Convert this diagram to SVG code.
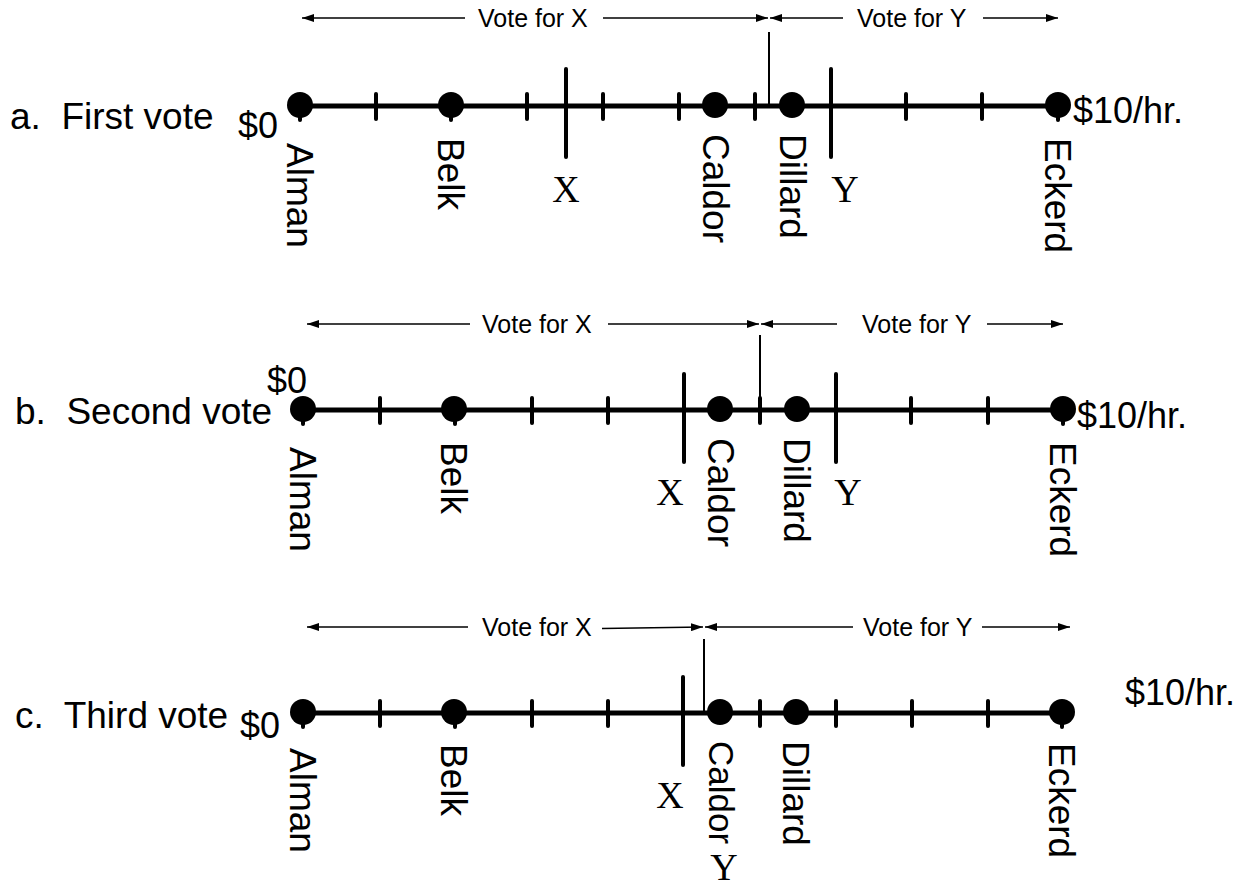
<svg xmlns="http://www.w3.org/2000/svg" width="1257" height="886" viewBox="0 0 1257 886">
  <defs>
    <marker id="head" viewBox="0 0 12 8" refX="12" refY="4" markerWidth="12" markerHeight="8" markerUnits="userSpaceOnUse" orient="auto-start-reverse">
      <path d="M0,0 L12,4 L0,8 Z" fill="#000"/>
    </marker>
  </defs>
  <style>
    .axis { stroke: #000; stroke-width: 5; }
    .tick { stroke: #000; stroke-width: 4; stroke-linecap: round; }
    .cut { stroke: #000; stroke-width: 4; stroke-linecap: round; }
    .split { stroke: #000; stroke-width: 2; }
    .arrow { stroke: #000; stroke-width: 1.6; fill: none; }
    .dot { fill: #000; }
    .sans { font-family: "Liberation Sans", Arial, sans-serif; fill: #000; }
    .title { font-size: 37px; white-space: pre; }
    .money { font-size: 36px; }
    .name { font-size: 37px; }
    .vote { font-size: 25px; }
    .pos { font-family: "Liberation Serif", "Times New Roman", serif; font-size: 38px; text-anchor: middle; fill: #000; }
  </style>

  <rect width="1257" height="886" fill="#fff"/>

  <!-- a. First vote -->
  <g id="panel-a">
    <text class="sans title" x="10" y="129" xml:space="preserve">a.  First vote</text>
    <text class="sans money" x="238" y="138">$0</text>
    <text class="sans money" x="1073" y="123">$10/hr.</text>
    <line class="axis" x1="300" y1="106" x2="1058" y2="106"/>
    <g id="ticks-a">
      <line class="tick" x1="300" y1="95" x2="300" y2="120"/>
      <line class="tick" x1="376" y1="94" x2="376" y2="119"/>
      <line class="tick" x1="451" y1="95" x2="451" y2="120"/>
      <line class="tick" x1="527" y1="94" x2="527" y2="119"/>
      <line class="tick" x1="603" y1="94" x2="603" y2="119"/>
      <line class="tick" x1="679" y1="94" x2="679" y2="119"/>
      <line class="tick" x1="755" y1="94" x2="755" y2="119"/>
      <line class="tick" x1="906" y1="94" x2="906" y2="119"/>
      <line class="tick" x1="982" y1="94" x2="982" y2="119"/>
      <line class="tick" x1="1058" y1="95" x2="1058" y2="120"/>
    </g>
    <g id="a-x"><line class="cut" x1="566" y1="69" x2="566" y2="157"/><text class="pos" x="566" y="202">X</text></g>
    <g id="a-y"><line class="cut" x1="831" y1="69" x2="831" y2="157"/><text class="pos" x="845" y="202">Y</text></g>
    <g id="a-alman"><circle class="dot" cx="300" cy="105" r="13"/><text class="sans name" transform="translate(287,143) rotate(90)">Alman</text></g>
    <g id="a-belk"><circle class="dot" cx="451" cy="105" r="13"/><text class="sans name" transform="translate(438,138) rotate(90)">Belk</text></g>
    <g id="a-caldor"><circle class="dot" cx="715" cy="105" r="13"/><text class="sans name" transform="translate(703,134) rotate(90)">Caldor</text></g>
    <g id="a-dillard"><circle class="dot" cx="792" cy="105" r="13"/><text class="sans name" transform="translate(780,134) rotate(90)">Dillard</text></g>
    <g id="a-eckerd"><circle class="dot" cx="1058" cy="105" r="13"/><text class="sans name" transform="translate(1045,138) rotate(90)">Eckerd</text></g>
    <text class="sans vote" x="478" y="27">Vote for X</text>
    <text class="sans vote" x="857" y="27">Vote for Y</text>
  </g>

  <!-- b. Second vote -->
  <g id="panel-b">
    <text class="sans title" x="15" y="424" xml:space="preserve">b.  Second vote</text>
    <text class="sans money" x="267" y="393">$0</text>
    <text class="sans money" x="1077" y="428">$10/hr.</text>
    <line class="axis" x1="303" y1="410" x2="1063" y2="410"/>
    <g id="ticks-b">
      <line class="tick" x1="303" y1="399" x2="303" y2="424"/>
      <line class="tick" x1="380" y1="398" x2="380" y2="423"/>
      <line class="tick" x1="455" y1="399" x2="455" y2="424"/>
      <line class="tick" x1="532" y1="398" x2="532" y2="423"/>
      <line class="tick" x1="608" y1="398" x2="608" y2="423"/>
      <line class="tick" x1="760" y1="398" x2="760" y2="423"/>
      <line class="tick" x1="911" y1="398" x2="911" y2="423"/>
      <line class="tick" x1="988" y1="398" x2="988" y2="423"/>
      <line class="tick" x1="1063" y1="399" x2="1063" y2="424"/>
    </g>
    <g id="b-x"><line class="cut" x1="684" y1="374" x2="684" y2="462"/><text class="pos" x="670" y="505">X</text></g>
    <g id="b-y"><line class="cut" x1="836" y1="374" x2="836" y2="462"/><text class="pos" x="848" y="505">Y</text></g>
    <g id="b-alman"><circle class="dot" cx="303" cy="409" r="13"/><text class="sans name" transform="translate(290,447) rotate(90)">Alman</text></g>
    <g id="b-belk"><circle class="dot" cx="454" cy="409" r="13"/><text class="sans name" transform="translate(441,442) rotate(90)">Belk</text></g>
    <g id="b-caldor"><circle class="dot" cx="720" cy="409" r="13"/><text class="sans name" transform="translate(708,438) rotate(90)">Caldor</text></g>
    <g id="b-dillard"><circle class="dot" cx="797" cy="409" r="13"/><text class="sans name" transform="translate(784,438) rotate(90)">Dillard</text></g>
    <g id="b-eckerd"><circle class="dot" cx="1063" cy="409" r="13"/><text class="sans name" transform="translate(1050,442) rotate(90)">Eckerd</text></g>
    <text class="sans vote" x="482" y="333">Vote for X</text>
    <text class="sans vote" x="862" y="333">Vote for Y</text>
  </g>

  <!-- c. Third vote -->
  <g id="panel-c">
    <text class="sans title" x="15" y="728" xml:space="preserve">c.  Third vote</text>
    <text class="sans money" x="240" y="738">$0</text>
    <text class="sans money" x="1125" y="705">$10/hr.</text>
    <line class="axis" x1="303" y1="713" x2="1062" y2="713"/>
    <g id="ticks-c">
      <line class="tick" x1="303" y1="702" x2="303" y2="727"/>
      <line class="tick" x1="380" y1="701" x2="380" y2="726"/>
      <line class="tick" x1="455" y1="702" x2="455" y2="727"/>
      <line class="tick" x1="532" y1="701" x2="532" y2="726"/>
      <line class="tick" x1="608" y1="701" x2="608" y2="726"/>
      <line class="tick" x1="760" y1="701" x2="760" y2="726"/>
      <line class="tick" x1="836" y1="701" x2="836" y2="726"/>
      <line class="tick" x1="912" y1="701" x2="912" y2="726"/>
      <line class="tick" x1="988" y1="701" x2="988" y2="726"/>
      <line class="tick" x1="1062" y1="702" x2="1062" y2="727"/>
    </g>
    <g id="c-x"><line class="cut" x1="683" y1="677" x2="683" y2="765"/><text class="pos" x="670" y="808">X</text></g>
    <g id="c-y"><text class="pos" x="724" y="880">Y</text></g>
    <g id="c-alman"><circle class="dot" cx="303" cy="712" r="13"/><text class="sans name" transform="translate(290,748) rotate(90)">Alman</text></g>
    <g id="c-belk"><circle class="dot" cx="454" cy="712" r="13"/><text class="sans name" transform="translate(441,744) rotate(90)">Belk</text></g>
    <g id="c-caldor"><circle class="dot" cx="720" cy="712" r="13"/><text class="sans name" transform="translate(709,741) rotate(90)" style="font-size:35px">Caldor</text></g>
    <g id="c-dillard"><circle class="dot" cx="796" cy="712" r="13"/><text class="sans name" transform="translate(783,741) rotate(90)">Dillard</text></g>
    <g id="c-eckerd"><circle class="dot" cx="1062" cy="712" r="13"/><text class="sans name" transform="translate(1049,743) rotate(90)">Eckerd</text></g>
    <text class="sans vote" x="482" y="636">Vote for X</text>
    <text class="sans vote" x="863" y="636">Vote for Y</text>
  </g>

  <!-- vote ranges and their dividing lines -->
  <g id="connectors">
    <line class="split" x1="769" y1="32" x2="769" y2="106"/>
    <line class="arrow" x1="465" y1="18" x2="302" y2="18" marker-end="url(#head)"/>
    <line class="arrow" x1="603" y1="18" x2="768" y2="18" marker-end="url(#head)"/>
    <line class="arrow" x1="843" y1="18" x2="770" y2="18" marker-end="url(#head)"/>
    <line class="arrow" x1="983" y1="18" x2="1058" y2="18" marker-end="url(#head)"/>

    <line class="split" x1="760" y1="335" x2="760" y2="410"/>
    <line class="arrow" x1="470" y1="324" x2="307" y2="324" marker-end="url(#head)"/>
    <line class="arrow" x1="608" y1="324" x2="759" y2="324" marker-end="url(#head)"/>
    <line class="arrow" x1="837" y1="324" x2="761" y2="324" marker-end="url(#head)"/>
    <line class="arrow" x1="987" y1="324" x2="1063" y2="324" marker-end="url(#head)"/>

    <line class="split" x1="704" y1="639" x2="704" y2="713"/>
    <line class="arrow" x1="468" y1="627" x2="307" y2="627" marker-end="url(#head)"/>
    <line class="arrow" x1="602" y1="628.5" x2="703" y2="627" marker-end="url(#head)"/>
    <line class="arrow" x1="853" y1="627" x2="705" y2="627" marker-end="url(#head)"/>
    <line class="arrow" x1="982" y1="627" x2="1070" y2="627" marker-end="url(#head)"/>
  </g>
</svg>
